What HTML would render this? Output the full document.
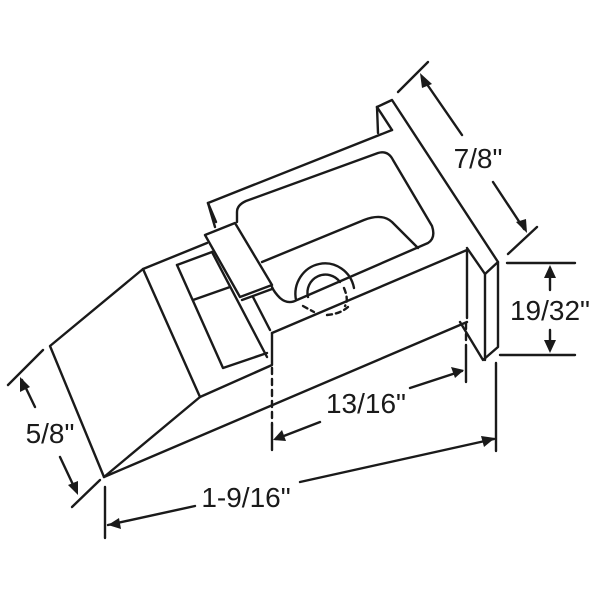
<!DOCTYPE html>
<html><head><meta charset="utf-8"><style>
html,body{margin:0;padding:0;background:#fff;}
svg{display:block}
text{font-family:"Liberation Sans",Arial,sans-serif;font-size:28px;fill:#1a1a1a}
</style></head><body>
<svg width="600" height="600" viewBox="0 0 600 600" xmlns="http://www.w3.org/2000/svg">
<defs>
<marker id="a" viewBox="0 0 10 10" refX="9" refY="5" markerWidth="6" markerHeight="6" orient="auto-start-reverse" markerUnits="userSpaceOnUse">
</marker>
</defs>
<g fill="none" stroke="#1a1a1a" stroke-width="2.4" stroke-linejoin="round" stroke-linecap="round">
<!-- wedge -->
<polygon points="50,346 143,269 200,397 104,477" fill="#fff"/>
<line x1="104" y1="477" x2="467" y2="322"/>
<!-- block -->
<polyline points="143,269 207,243"/>
<polyline points="200,397 272,365 272,333"/>
<!-- recess -->
<polyline points="177,265 212,252"/>
<polyline points="177,265 223,368 267,353"/>
<line x1="193" y1="300" x2="230" y2="287"/>
<line x1="212" y1="252" x2="267" y2="357"/>
<polyline points="253,297 270,330"/>
<!-- rim and back -->
<polyline points="208,203 392,130"/>
<polyline points="208,203 215,227"/>
<line x1="208" y1="203" x2="216" y2="222"/>
<polyline points="377,107 392,100 498,262 498,347 483,360 460,322"/>
<polyline points="377,107 378,133"/>
<line x1="377" y1="107" x2="392" y2="130"/>
<polyline points="485,274 498,262"/>
<polyline points="467,248 485,274 485,360"/>
<!-- front wall -->
<polyline points="272,333 467,250 467,318"/>
<!-- clip -->
<polygon points="205,235 235,223 272,285 240,297" fill="#fff"/>
<line x1="242" y1="300" x2="272" y2="289"/>
<!-- bowl -->
<path d="M237,222 L237,212 Q237,205 246,201 L378,153 Q388,150 393,160 L432,226 Q436,238 428,243 L297,300 Q288,305 280,298 Q274,292 272,287"/>
<path d="M262,262 L364,220 Q382,213 392,222 L418,248"/>
<path d="M296,300 A29,30 0 0 1 354,288"/>
<path d="M308,297 A18,18 0 0 1 340,282"/>
<path d="M344,288 Q349,300 345,306 M303,306 L314,312 M327,315 Q340,314 348,307" stroke-dasharray="5,4"/>
<!-- dimension: 7/8 -->
<line x1="398" y1="92" x2="428" y2="62"/>
<line x1="508" y1="254" x2="537" y2="227"/>
<line x1="422" y1="77" x2="462" y2="135"/>
<line x1="493" y1="182" x2="524" y2="229"/>
<!-- 19/32 -->
<line x1="507" y1="263" x2="575" y2="263"/>
<line x1="500" y1="355" x2="575" y2="355"/>
<line x1="550" y1="268" x2="550" y2="290"/>
<line x1="550" y1="330" x2="550" y2="350"/>
<!-- 13/16 -->
<line x1="272" y1="368" x2="272" y2="425" stroke-dasharray="6,5"/>
<line x1="272" y1="425" x2="272" y2="450"/>
<line x1="466" y1="323" x2="466" y2="345" stroke-dasharray="6,5"/>
<line x1="466" y1="345" x2="466" y2="382"/>
<line x1="276" y1="439" x2="320" y2="422"/>
<line x1="410" y1="388" x2="462" y2="371"/>
<!-- 1-9/16 -->
<line x1="105" y1="487" x2="105" y2="538"/>
<line x1="496" y1="363" x2="496" y2="451"/>
<line x1="108" y1="525" x2="195" y2="506"/>
<line x1="300" y1="482" x2="494" y2="439"/>
<!-- 5/8 -->
<line x1="8" y1="385" x2="43" y2="350"/>
<line x1="72" y1="507" x2="100" y2="480"/>
<line x1="22" y1="380" x2="35" y2="407"/>
<line x1="60" y1="457" x2="76" y2="491"/>
</g>
<g fill="#1a1a1a">
<polygon points="420,73 432,84 422,88"/>
<polygon points="527,233 516,222 526,219"/>
<polygon points="550,265 544,278 556,278"/>
<polygon points="550,353 544,340 556,340"/>
<polygon points="273,440 282,430 286,441"/>
<polygon points="464,370 451,367 455,378"/>
<polygon points="108,525 119,518 121,529"/>
<polygon points="495,438 481,436 484,447"/>
<polygon points="20,377 20,392 30,387"/>
<polygon points="78,495 78,481 68,485"/>
</g>
<text x="478" y="168" text-anchor="middle">7/8"</text>
<text x="550" y="320" text-anchor="middle">19/32"</text>
<text x="366" y="413" text-anchor="middle">13/16"</text>
<text x="246" y="507" text-anchor="middle">1-9/16"</text>
<text x="50" y="443" text-anchor="middle">5/8"</text>
</svg>
</body></html>
